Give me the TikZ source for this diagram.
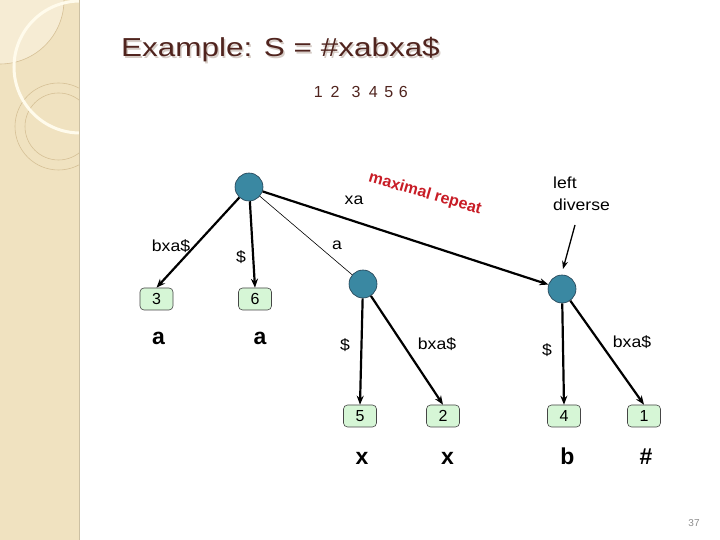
\documentclass[tikz,border=0pt]{standalone}
\usepackage{fontspec}
\usepackage{graphicx}
\setmainfont{Liberation Sans}
\newfontfamily\wide[FakeStretch=1.1]{Liberation Sans}
\usetikzlibrary{arrows.meta}
\definecolor{stripc}{RGB}{240,226,192}
\definecolor{stripl}{RGB}{246,236,212}
\definecolor{tanline}{RGB}{214,192,150}
\definecolor{creamc}{RGB}{255,251,236}
\definecolor{titlec}{RGB}{80,36,30}
\definecolor{shadowc}{RGB}{214,204,198}
\definecolor{nodefill}{RGB}{58,136,162}
\definecolor{nodeline}{RGB}{34,62,80}
\definecolor{leaffill}{RGB}{214,246,214}
\definecolor{leafline}{RGB}{70,70,70}
\definecolor{redc}{RGB}{200,28,38}
\tikzset{
  inner/.style={circle, fill=nodefill, draw=nodeline, line width=0.6pt, minimum size=28pt, inner sep=0pt},
  leaf/.style={rectangle, rounded corners=4pt, fill=leaffill, draw=leafline, line width=0.6pt, minimum width=33pt, minimum height=22pt, inner sep=0pt, font=\fontsize{16}{18}\selectfont},
  lbl/.style={inner sep=0pt, font=\wide\fontsize{16}{18}\selectfont},
  chr/.style={inner sep=0pt, anchor=base, font=\bfseries\fontsize{23}{25}\selectfont},
  ttl/.style={inner sep=0pt, anchor=base west, text=titlec, font=\fontsize{26}{30}\selectfont},
  ttlsh/.style={inner sep=0pt, anchor=base west, text=shadowc, font=\fontsize{26}{30}\selectfont},
  dig/.style={inner sep=0pt, anchor=base, text=titlec, font=\fontsize{16}{18}\selectfont},
  thickedge/.style={line width=2.2pt, -{Stealth[length=9pt,width=7pt]}},
  thinedge/.style={line width=0.6pt},
}
\begin{document}
\begin{tikzpicture}[x=1pt,y=1pt]
\useasboundingbox (0,0) rectangle (720,540);
\fill[white] (0,0) rectangle (720,540);
% left strip
\fill[stripc] (0,0) rectangle (79,540);
\begin{scope}
  \clip (0,0) rectangle (79,540);
  \fill[stripl] (0,540) circle (64);
  \draw[tanline, line width=0.6pt] (0,540) circle (64);
  \draw[tanline, line width=0.6pt] (58.5,413.5) circle (43.5);
  \draw[tanline, line width=0.6pt] (58.5,413.5) circle (33.5);
  \draw[creamc, line width=3pt] (80,473) circle (66);
\end{scope}
\draw[stripc!85!black, line width=0.3pt] (79,0) -- (79,540);
% title
\node[ttlsh] (ts) at (122.5,481.8) {\scalebox{1.21}[1]{Example: S = \#xabxa\$}};
\node[ttl] (t) at (121,483.3) {\scalebox{1.21}[1]{Example: S = \#xabxa\$}};
% positions
\node[dig] (d1) at (318.3,442) {1};
\node[dig] (d2) at (335,442) {2};
\node[dig] (d3) at (356,442) {3};
\node[dig] (d4) at (373.3,442) {4};
\node[dig] (d5) at (388.7,442) {5};
\node[dig] (d6) at (403.3,442) {6};
% tree nodes
\node[inner] (A) at (249,353) {};
\node[inner] (B) at (363,256) {};
\node[inner] (C) at (562,251) {};
\node[leaf] (l3) at (156.5,241) {3};
\node[leaf] (l6) at (255,241) {6};
\node[leaf] (l5) at (360,124) {5};
\node[leaf] (l2) at (443,124) {2};
\node[leaf] (l4) at (564,124) {4};
\node[leaf] (l1) at (644,124) {1};
% edges
\draw[thickedge] (A) -- (l3.north);
\draw[thickedge] (A) -- (l6.north);
\draw[thinedge] (A) -- (B);
\draw[thickedge] (A) -- (C);
\draw[thickedge] (B) -- (l5.north);
\draw[thickedge] (B) -- (l2.north);
\draw[thickedge] (C) -- (l4.north);
\draw[thickedge] (C) -- (l1.north);
% edge labels
\node[lbl] (e1) at (171,294) {bxa\$};
\node[lbl] (e2) at (241,283) {\$};
\node[lbl] (e3) at (337,295) {a};
\node[lbl] (e4) at (354,340) {xa};
\node[lbl] (e5) at (345,195) {\$};
\node[lbl] (e6) at (437,196) {bxa\$};
\node[lbl] (e7) at (547,190) {\$};
\node[lbl] (e8) at (632,198) {bxa\$};
% maximal repeat
\node[inner sep=0pt, text=redc, rotate=-16, font=\bfseries\fontsize{16}{18}\selectfont] (mr) at (425,346) {maximal repeat};
% left diverse
\node[lbl, anchor=west, align=left, font=\wide\fontsize{16}{22}\selectfont] (ld) at (553,346) {left\\diverse};
\coordinate (ldstart) at (575,315);
\coordinate (ldtip) at (563,271);
\draw[line width=1.3pt, -{Stealth[length=8pt,width=6pt]}] (ldstart) -- (ldtip);
% characters below leaves
\node[chr] (c3) at (158.5,195) {a};
\node[chr] (c6) at (260,195) {a};
\node[chr] (c5) at (362,75) {x};
\node[chr] (c2) at (447.5,75) {x};
\node[chr] (c4) at (567.5,75) {b};
\node[chr] (c1) at (646,75) {\#};
% page number
\node[inner sep=0pt, text=black!45, font=\fontsize{10}{12}\selectfont] (pg) at (694,17) {37};
\end{tikzpicture}
\end{document}
